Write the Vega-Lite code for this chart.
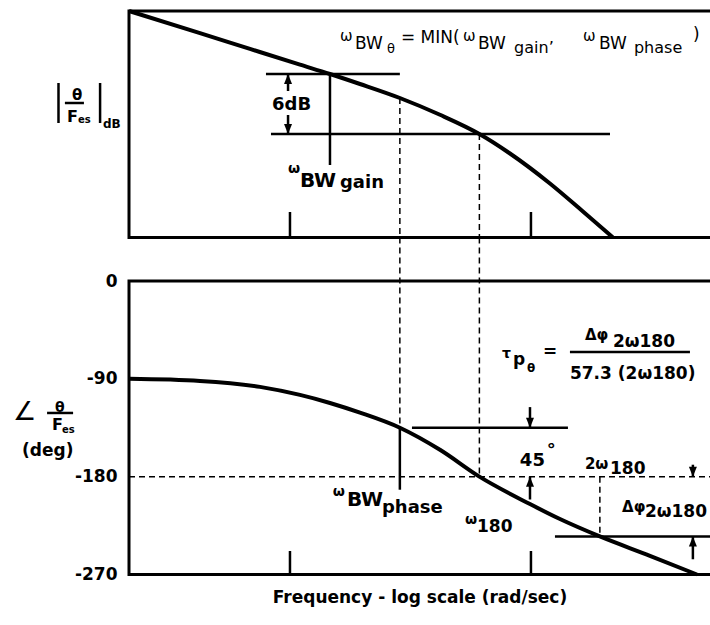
{
  "$schema": "https://vega.github.io/schema/vega-lite/v6.json",
  "width": 581,
  "height": 563.5,
  "autosize": {"type": "none"},
  "padding": {"left": 129, "top": 11, "right": 0, "bottom": 50.5},
  "background": "white",
  "config": {
    "view": {"stroke": null},
    "axisX": {"labels": false, "ticks": false, "domain": false, "grid": false, "titleFont": "DejaVu Sans", "titleFontWeight": "bold", "titleFontSize": 17, "titlePadding": 15, "titleColor": "black"},
    "axisY": {"ticks": false, "domain": false, "grid": false, "labelFont": "DejaVu Sans", "labelFontWeight": "bold", "labelFontSize": 17, "labelPadding": 12, "labelColor": "black"}
  },
  "datasets": {
    "topFrame": [{"x": -0.668, "x2": 1.9, "y": 0, "y2": -22.65}],
    "topCurve": [
      {"x": -0.668, "y": 0}, {"x": -0.3734, "y": -2.22}, {"x": -0.166, "y": -3.79}, {"x": 0.0415, "y": -5.36},
      {"x": 0.166, "y": -6.3}, {"x": 0.2905, "y": -7.3}, {"x": 0.456, "y": -8.7}, {"x": 0.6224, "y": -10.38},
      {"x": 0.786, "y": -12.3}, {"x": 0.9129, "y": -14.25}, {"x": 1.0788, "y": -17.25}, {"x": 1.2158, "y": -20.05},
      {"x": 1.34, "y": -22.65}
    ],
    "topLines": [
      {"x": -0.0996, "x2": 0.456, "y": -6.3, "y2": -6.3},
      {"x": -0.0788, "x2": 1.328, "y": -12.3, "y2": -12.3},
      {"x": 0.166, "x2": 0.166, "y": -6.3, "y2": -15.4},
      {"x": 0, "x2": 0, "y": -20.1, "y2": -22.65},
      {"x": 1, "x2": 1, "y": -20.1, "y2": -22.65},
      {"x": -0.008, "x2": -0.008, "y": -6.3, "y2": -8.0},
      {"x": -0.008, "x2": -0.008, "y": -10.4, "y2": -12.3},
      {"x": -0.9606, "x2": -0.9606, "y": -7.2, "y2": -11.2},
      {"x": -0.788, "x2": -0.788, "y": -7.2, "y2": -11.2},
      {"x": -0.934, "x2": -0.855, "y": -9.2, "y2": -9.2}
    ],
    "topDashed": [
      {"x": 0.456, "x2": 0.456, "y": -8.7, "y2": -22.65},
      {"x": 0.786, "x2": 0.786, "y": -12.3, "y2": -22.65}
    ],
    "topHeads": [
      {"x": -0.008, "y": -6.3, "dir": "up"},
      {"x": -0.008, "y": -12.3, "dir": "down"}
    ],
    "topTextReg": [
      {"x": 0.2075, "y": -3.0, "t": "ω", "role": "omega"},
      {"x": 0.2697, "y": -3.8, "t": "BW", "role": "main"},
      {"x": 0.4025, "y": -4.2, "t": "θ", "role": "sub"},
      {"x": 0.4606, "y": -3.2, "t": "= MIN(", "role": "main"},
      {"x": 0.7178, "y": -3.0, "t": "ω", "role": "omega"},
      {"x": 0.7801, "y": -3.8, "t": "BW", "role": "main"},
      {"x": 0.93, "y": -4.2, "t": "gain’", "role": "mid"},
      {"x": 1.216, "y": -3.0, "t": "ω", "role": "omega"},
      {"x": 1.2825, "y": -3.8, "t": "BW", "role": "main"},
      {"x": 1.4274, "y": -4.2, "t": "phase", "role": "mid"},
      {"x": 1.672, "y": -2.9, "t": ")", "role": "main"}
    ],
    "topTextBold": [
      {"x": -0.0747, "y": -9.9, "t": "6dB", "role": "large"},
      {"x": -0.0083, "y": -16.2, "t": "ω", "role": "sup"},
      {"x": 0.0415, "y": -17.6, "t": "BW", "role": "big"},
      {"x": 0.2075, "y": -17.7, "t": "gain", "role": "large"},
      {"x": -0.9046, "y": -8.9, "t": "θ", "role": "omega"},
      {"x": -0.925, "y": -11.1, "t": "F", "role": "mid"},
      {"x": -0.88, "y": -11.2, "t": "es", "role": "tiny"},
      {"x": -0.776, "y": -11.7, "t": "dB", "role": "small"}
    ],
    "botFrame": [{"x": -0.668, "x2": 1.9, "y": 0, "y2": -270}],
    "botCurve": [
      {"x": -0.668, "y": -90}, {"x": -0.3734, "y": -91.9}, {"x": -0.1245, "y": -97.4}, {"x": 0.0415, "y": -104.8},
      {"x": 0.166, "y": -112.2}, {"x": 0.2905, "y": -121.1}, {"x": 0.456, "y": -135}, {"x": 0.6224, "y": -155.3},
      {"x": 0.786, "y": -180}, {"x": 0.9959, "y": -205.2}, {"x": 1.1203, "y": -219}, {"x": 1.286, "y": -235},
      {"x": 1.4938, "y": -252.8}, {"x": 1.6888, "y": -270}
    ],
    "botLines": [
      {"x": 0.5062, "x2": 1.1535, "y": -135, "y2": -135},
      {"x": 1.0996, "x2": 1.9, "y": -235, "y2": -235},
      {"x": 0.456, "x2": 0.456, "y": -135, "y2": -192},
      {"x": 0, "x2": 0, "y": -248.4, "y2": -270},
      {"x": 1, "x2": 1, "y": -248.4, "y2": -270},
      {"x": 0.996, "x2": 0.996, "y": -116, "y2": -135},
      {"x": 0.996, "x2": 0.996, "y": -180, "y2": -201},
      {"x": 1.672, "x2": 1.672, "y": -169, "y2": -180},
      {"x": 1.672, "x2": 1.672, "y": -235, "y2": -256},
      {"x": 1.1618, "x2": 1.6598, "y": -65.3, "y2": -65.3},
      {"x": -1.008, "x2": -0.9, "y": -121.4, "y2": -121.4}
    ],
    "botDashed": [
      {"x": -0.668, "x2": 1.9, "y": -180, "y2": -180},
      {"x": 0.456, "x2": 0.456, "y": 40, "y2": -135},
      {"x": 0.786, "x2": 0.786, "y": 40, "y2": -180},
      {"x": 1.286, "x2": 1.286, "y": -180, "y2": -235}
    ],
    "botHeads": [
      {"x": 0.996, "y": -135, "dir": "down"},
      {"x": 0.996, "y": -180, "dir": "up"},
      {"x": 1.672, "y": -180, "dir": "down"},
      {"x": 1.672, "y": -235, "dir": "up"}
    ],
    "botText": [
      {"x": 0.8797, "y": -70.8, "t": "τ", "role": "sup"},
      {"x": 0.9253, "y": -77.3, "t": "p", "role": "main"},
      {"x": 0.9834, "y": -83.7, "t": "θ", "role": "small"},
      {"x": 1.0498, "y": -69.9, "t": "=", "role": "main"},
      {"x": 1.224, "y": -54.3, "t": "Δφ", "role": "omega"},
      {"x": 1.3402, "y": -60.7, "t": "2ω180", "role": "main"},
      {"x": 1.1618, "y": -90.2, "t": "57.3 (2ω180)", "role": "main"},
      {"x": 0.954, "y": -170.2, "t": "45", "role": "large"},
      {"x": 1.066, "y": -161, "t": "°", "role": "large"},
      {"x": 1.224, "y": -173, "t": "2ω", "role": "omega"},
      {"x": 1.328, "y": -177.6, "t": "180", "role": "main"},
      {"x": 0.178, "y": -197.8, "t": "ω", "role": "sup"},
      {"x": 0.2365, "y": -207, "t": "BW", "role": "big"},
      {"x": 0.3817, "y": -213.4, "t": "phase", "role": "large"},
      {"x": 0.726, "y": -223.5, "t": "ω", "role": "sup"},
      {"x": 0.776, "y": -230.9, "t": "180", "role": "main"},
      {"x": 1.378, "y": -212.5, "t": "Δφ", "role": "omega"},
      {"x": 1.473, "y": -217.1, "t": "2ω180", "role": "main"},
      {"x": -1.149, "y": -127.9, "t": "∠", "role": "huge"},
      {"x": -0.975, "y": -120.5, "t": "θ", "role": "sup"},
      {"x": -0.9876, "y": -137.1, "t": "F", "role": "mid"},
      {"x": -0.946, "y": -139.8, "t": "es", "role": "tiny"},
      {"x": -1.112, "y": -161.0, "t": "(deg)", "role": "main"}
    ]
  },
  "resolve": {"scale": {"y": "independent"}},
  "layer": [
    {
      "layer": [
        {"data": {"name": "topFrame"}, "mark": {"type": "rect", "fillOpacity": 0, "stroke": "black", "strokeWidth": 3},
          "encoding": {"x": {"field": "x", "type": "quantitative", "scale": {"domain": [-0.668, 1.743], "nice": false, "zero": false}, "title": "Frequency - log scale (rad/sec)"}, "x2": {"field": "x2"},
            "y": {"field": "y", "type": "quantitative", "scale": {"domain": [-56.35, 0], "nice": false, "zero": false}, "axis": null}, "y2": {"field": "y2"}}},
        {"data": {"name": "topCurve"}, "mark": {"type": "line", "color": "black", "strokeWidth": 4, "interpolate": "monotone"},
          "encoding": {"x": {"field": "x", "type": "quantitative", "scale": {"domain": [-0.668, 1.743], "nice": false, "zero": false}, "title": "Frequency - log scale (rad/sec)"},
            "y": {"field": "y", "type": "quantitative", "scale": {"domain": [-56.35, 0], "nice": false, "zero": false}, "axis": null}}},
        {"data": {"name": "topLines"}, "mark": {"type": "rule", "color": "black", "strokeWidth": 2.5},
          "encoding": {"x": {"field": "x", "type": "quantitative", "scale": {"domain": [-0.668, 1.743], "nice": false, "zero": false}, "title": "Frequency - log scale (rad/sec)"}, "x2": {"field": "x2"},
            "y": {"field": "y", "type": "quantitative", "scale": {"domain": [-56.35, 0], "nice": false, "zero": false}, "axis": null}, "y2": {"field": "y2"}}},
        {"data": {"name": "topDashed"}, "mark": {"type": "rule", "color": "black", "strokeWidth": 1.5, "strokeDash": [6, 4]},
          "encoding": {"x": {"field": "x", "type": "quantitative", "scale": {"domain": [-0.668, 1.743], "nice": false, "zero": false}, "title": "Frequency - log scale (rad/sec)"}, "x2": {"field": "x2"},
            "y": {"field": "y", "type": "quantitative", "scale": {"domain": [-56.35, 0], "nice": false, "zero": false}, "axis": null}, "y2": {"field": "y2"}}},
        {"data": {"name": "topHeads"}, "mark": {"type": "point", "filled": true, "color": "black", "size": 400, "opacity": 1},
          "encoding": {"x": {"field": "x", "type": "quantitative", "scale": {"domain": [-0.668, 1.743], "nice": false, "zero": false}, "title": "Frequency - log scale (rad/sec)"},
            "y": {"field": "y", "type": "quantitative", "scale": {"domain": [-56.35, 0], "nice": false, "zero": false}, "axis": null},
            "shape": {"field": "dir", "type": "nominal", "scale": {"domain": ["up", "down"], "range": ["M0,0L-0.4,1L0.4,1Z", "M0,0L-0.4,-1L0.4,-1Z"]}, "legend": null}}},
        {"data": {"name": "topTextReg"}, "transform": [{"filter": {"field": "role", "equal": "omega"}}],
          "mark": {"type": "text", "align": "left", "baseline": "alphabetic", "font": "DejaVu Sans", "fontWeight": "normal", "fontSize": 15, "color": "black"},
          "encoding": {"x": {"field": "x", "type": "quantitative", "scale": {"domain": [-0.668, 1.743], "nice": false, "zero": false}, "title": "Frequency - log scale (rad/sec)"},
            "y": {"field": "y", "type": "quantitative", "scale": {"domain": [-56.35, 0], "nice": false, "zero": false}, "axis": null}, "text": {"field": "t"}}},
        {"data": {"name": "topTextReg"}, "transform": [{"filter": {"field": "role", "equal": "main"}}],
          "mark": {"type": "text", "align": "left", "baseline": "alphabetic", "font": "DejaVu Sans", "fontWeight": "normal", "fontSize": 17, "color": "black"},
          "encoding": {"x": {"field": "x", "type": "quantitative", "scale": {"domain": [-0.668, 1.743], "nice": false, "zero": false}, "title": "Frequency - log scale (rad/sec)"},
            "y": {"field": "y", "type": "quantitative", "scale": {"domain": [-56.35, 0], "nice": false, "zero": false}, "axis": null}, "text": {"field": "t"}}},
        {"data": {"name": "topTextReg"}, "transform": [{"filter": {"field": "role", "equal": "sub"}}],
          "mark": {"type": "text", "align": "left", "baseline": "alphabetic", "font": "DejaVu Sans", "fontWeight": "normal", "fontSize": 13, "color": "black"},
          "encoding": {"x": {"field": "x", "type": "quantitative", "scale": {"domain": [-0.668, 1.743], "nice": false, "zero": false}, "title": "Frequency - log scale (rad/sec)"},
            "y": {"field": "y", "type": "quantitative", "scale": {"domain": [-56.35, 0], "nice": false, "zero": false}, "axis": null}, "text": {"field": "t"}}},
        {"data": {"name": "topTextReg"}, "transform": [{"filter": {"field": "role", "equal": "mid"}}],
          "mark": {"type": "text", "align": "left", "baseline": "alphabetic", "font": "DejaVu Sans", "fontWeight": "normal", "fontSize": 16, "color": "black"},
          "encoding": {"x": {"field": "x", "type": "quantitative", "scale": {"domain": [-0.668, 1.743], "nice": false, "zero": false}, "title": "Frequency - log scale (rad/sec)"},
            "y": {"field": "y", "type": "quantitative", "scale": {"domain": [-56.35, 0], "nice": false, "zero": false}, "axis": null}, "text": {"field": "t"}}},
        {"data": {"name": "topTextBold"}, "transform": [{"filter": {"field": "role", "equal": "large"}}],
          "mark": {"type": "text", "align": "left", "baseline": "alphabetic", "font": "DejaVu Sans", "fontWeight": "bold", "fontSize": 18, "color": "black"},
          "encoding": {"x": {"field": "x", "type": "quantitative", "scale": {"domain": [-0.668, 1.743], "nice": false, "zero": false}, "title": "Frequency - log scale (rad/sec)"},
            "y": {"field": "y", "type": "quantitative", "scale": {"domain": [-56.35, 0], "nice": false, "zero": false}, "axis": null}, "text": {"field": "t"}}},
        {"data": {"name": "topTextBold"}, "transform": [{"filter": {"field": "role", "equal": "sup"}}],
          "mark": {"type": "text", "align": "left", "baseline": "alphabetic", "font": "DejaVu Sans", "fontWeight": "bold", "fontSize": 14, "color": "black"},
          "encoding": {"x": {"field": "x", "type": "quantitative", "scale": {"domain": [-0.668, 1.743], "nice": false, "zero": false}, "title": "Frequency - log scale (rad/sec)"},
            "y": {"field": "y", "type": "quantitative", "scale": {"domain": [-56.35, 0], "nice": false, "zero": false}, "axis": null}, "text": {"field": "t"}}},
        {"data": {"name": "topTextBold"}, "transform": [{"filter": {"field": "role", "equal": "big"}}],
          "mark": {"type": "text", "align": "left", "baseline": "alphabetic", "font": "DejaVu Sans", "fontWeight": "bold", "fontSize": 20, "color": "black"},
          "encoding": {"x": {"field": "x", "type": "quantitative", "scale": {"domain": [-0.668, 1.743], "nice": false, "zero": false}, "title": "Frequency - log scale (rad/sec)"},
            "y": {"field": "y", "type": "quantitative", "scale": {"domain": [-56.35, 0], "nice": false, "zero": false}, "axis": null}, "text": {"field": "t"}}},
        {"data": {"name": "topTextBold"}, "transform": [{"filter": {"field": "role", "equal": "omega"}}],
          "mark": {"type": "text", "align": "left", "baseline": "alphabetic", "font": "DejaVu Sans", "fontWeight": "bold", "fontSize": 15, "color": "black"},
          "encoding": {"x": {"field": "x", "type": "quantitative", "scale": {"domain": [-0.668, 1.743], "nice": false, "zero": false}, "title": "Frequency - log scale (rad/sec)"},
            "y": {"field": "y", "type": "quantitative", "scale": {"domain": [-56.35, 0], "nice": false, "zero": false}, "axis": null}, "text": {"field": "t"}}},
        {"data": {"name": "topTextBold"}, "transform": [{"filter": {"field": "role", "equal": "mid"}}],
          "mark": {"type": "text", "align": "left", "baseline": "alphabetic", "font": "DejaVu Sans", "fontWeight": "bold", "fontSize": 16, "color": "black"},
          "encoding": {"x": {"field": "x", "type": "quantitative", "scale": {"domain": [-0.668, 1.743], "nice": false, "zero": false}, "title": "Frequency - log scale (rad/sec)"},
            "y": {"field": "y", "type": "quantitative", "scale": {"domain": [-56.35, 0], "nice": false, "zero": false}, "axis": null}, "text": {"field": "t"}}},
        {"data": {"name": "topTextBold"}, "transform": [{"filter": {"field": "role", "equal": "tiny"}}],
          "mark": {"type": "text", "align": "left", "baseline": "alphabetic", "font": "DejaVu Sans", "fontWeight": "bold", "fontSize": 10, "color": "black"},
          "encoding": {"x": {"field": "x", "type": "quantitative", "scale": {"domain": [-0.668, 1.743], "nice": false, "zero": false}, "title": "Frequency - log scale (rad/sec)"},
            "y": {"field": "y", "type": "quantitative", "scale": {"domain": [-56.35, 0], "nice": false, "zero": false}, "axis": null}, "text": {"field": "t"}}},
        {"data": {"name": "topTextBold"}, "transform": [{"filter": {"field": "role", "equal": "small"}}],
          "mark": {"type": "text", "align": "left", "baseline": "alphabetic", "font": "DejaVu Sans", "fontWeight": "bold", "fontSize": 12, "color": "black"},
          "encoding": {"x": {"field": "x", "type": "quantitative", "scale": {"domain": [-0.668, 1.743], "nice": false, "zero": false}, "title": "Frequency - log scale (rad/sec)"},
            "y": {"field": "y", "type": "quantitative", "scale": {"domain": [-56.35, 0], "nice": false, "zero": false}, "axis": null}, "text": {"field": "t"}}}
      ]
    },
    {
      "layer": [
        {"data": {"name": "botFrame"}, "mark": {"type": "rect", "fillOpacity": 0, "stroke": "black", "strokeWidth": 3},
          "encoding": {"x": {"field": "x", "type": "quantitative", "scale": {"domain": [-0.668, 1.743], "nice": false, "zero": false}, "title": "Frequency - log scale (rad/sec)"}, "x2": {"field": "x2"},
            "y": {"field": "y", "type": "quantitative", "scale": {"domain": [-270, 248.4], "nice": false, "zero": false}, "axis": {"values": [0, -90, -180, -270], "labelExpr": "datum.value == 0 ? '0' : '-' + abs(datum.value)"}, "title": null}, "y2": {"field": "y2"}}},
        {"data": {"name": "botDashed"}, "mark": {"type": "rule", "color": "black", "strokeWidth": 1.5, "strokeDash": [6, 4]},
          "encoding": {"x": {"field": "x", "type": "quantitative", "scale": {"domain": [-0.668, 1.743], "nice": false, "zero": false}, "title": "Frequency - log scale (rad/sec)"}, "x2": {"field": "x2"},
            "y": {"field": "y", "type": "quantitative", "scale": {"domain": [-270, 248.4], "nice": false, "zero": false}, "axis": {"values": [0, -90, -180, -270], "labelExpr": "datum.value == 0 ? '0' : '-' + abs(datum.value)"}, "title": null}, "y2": {"field": "y2"}}},
        {"data": {"name": "botCurve"}, "mark": {"type": "line", "color": "black", "strokeWidth": 4, "interpolate": "monotone"},
          "encoding": {"x": {"field": "x", "type": "quantitative", "scale": {"domain": [-0.668, 1.743], "nice": false, "zero": false}, "title": "Frequency - log scale (rad/sec)"},
            "y": {"field": "y", "type": "quantitative", "scale": {"domain": [-270, 248.4], "nice": false, "zero": false}, "axis": {"values": [0, -90, -180, -270], "labelExpr": "datum.value == 0 ? '0' : '-' + abs(datum.value)"}, "title": null}}},
        {"data": {"name": "botLines"}, "mark": {"type": "rule", "color": "black", "strokeWidth": 2.5},
          "encoding": {"x": {"field": "x", "type": "quantitative", "scale": {"domain": [-0.668, 1.743], "nice": false, "zero": false}, "title": "Frequency - log scale (rad/sec)"}, "x2": {"field": "x2"},
            "y": {"field": "y", "type": "quantitative", "scale": {"domain": [-270, 248.4], "nice": false, "zero": false}, "axis": {"values": [0, -90, -180, -270], "labelExpr": "datum.value == 0 ? '0' : '-' + abs(datum.value)"}, "title": null}, "y2": {"field": "y2"}}},
        {"data": {"name": "botHeads"}, "mark": {"type": "point", "filled": true, "color": "black", "size": 400, "opacity": 1},
          "encoding": {"x": {"field": "x", "type": "quantitative", "scale": {"domain": [-0.668, 1.743], "nice": false, "zero": false}, "title": "Frequency - log scale (rad/sec)"},
            "y": {"field": "y", "type": "quantitative", "scale": {"domain": [-270, 248.4], "nice": false, "zero": false}, "axis": {"values": [0, -90, -180, -270], "labelExpr": "datum.value == 0 ? '0' : '-' + abs(datum.value)"}, "title": null},
            "shape": {"field": "dir", "type": "nominal", "scale": {"domain": ["up", "down"], "range": ["M0,0L-0.4,1L0.4,1Z", "M0,0L-0.4,-1L0.4,-1Z"]}, "legend": null}}},
        {"data": {"name": "botText"}, "transform": [{"filter": {"field": "role", "equal": "tiny"}}],
          "mark": {"type": "text", "align": "left", "baseline": "alphabetic", "font": "DejaVu Sans", "fontWeight": "bold", "fontSize": 10, "color": "black"},
          "encoding": {"x": {"field": "x", "type": "quantitative", "scale": {"domain": [-0.668, 1.743], "nice": false, "zero": false}, "title": "Frequency - log scale (rad/sec)"},
            "y": {"field": "y", "type": "quantitative", "scale": {"domain": [-270, 248.4], "nice": false, "zero": false}, "axis": {"values": [0, -90, -180, -270], "labelExpr": "datum.value == 0 ? '0' : '-' + abs(datum.value)"}, "title": null}, "text": {"field": "t"}}},
        {"data": {"name": "botText"}, "transform": [{"filter": {"field": "role", "equal": "small"}}],
          "mark": {"type": "text", "align": "left", "baseline": "alphabetic", "font": "DejaVu Sans", "fontWeight": "bold", "fontSize": 12, "color": "black"},
          "encoding": {"x": {"field": "x", "type": "quantitative", "scale": {"domain": [-0.668, 1.743], "nice": false, "zero": false}, "title": "Frequency - log scale (rad/sec)"},
            "y": {"field": "y", "type": "quantitative", "scale": {"domain": [-270, 248.4], "nice": false, "zero": false}, "axis": {"values": [0, -90, -180, -270], "labelExpr": "datum.value == 0 ? '0' : '-' + abs(datum.value)"}, "title": null}, "text": {"field": "t"}}},
        {"data": {"name": "botText"}, "transform": [{"filter": {"field": "role", "equal": "sup"}}],
          "mark": {"type": "text", "align": "left", "baseline": "alphabetic", "font": "DejaVu Sans", "fontWeight": "bold", "fontSize": 14, "color": "black"},
          "encoding": {"x": {"field": "x", "type": "quantitative", "scale": {"domain": [-0.668, 1.743], "nice": false, "zero": false}, "title": "Frequency - log scale (rad/sec)"},
            "y": {"field": "y", "type": "quantitative", "scale": {"domain": [-270, 248.4], "nice": false, "zero": false}, "axis": {"values": [0, -90, -180, -270], "labelExpr": "datum.value == 0 ? '0' : '-' + abs(datum.value)"}, "title": null}, "text": {"field": "t"}}},
        {"data": {"name": "botText"}, "transform": [{"filter": {"field": "role", "equal": "omega"}}],
          "mark": {"type": "text", "align": "left", "baseline": "alphabetic", "font": "DejaVu Sans", "fontWeight": "bold", "fontSize": 15, "color": "black"},
          "encoding": {"x": {"field": "x", "type": "quantitative", "scale": {"domain": [-0.668, 1.743], "nice": false, "zero": false}, "title": "Frequency - log scale (rad/sec)"},
            "y": {"field": "y", "type": "quantitative", "scale": {"domain": [-270, 248.4], "nice": false, "zero": false}, "axis": {"values": [0, -90, -180, -270], "labelExpr": "datum.value == 0 ? '0' : '-' + abs(datum.value)"}, "title": null}, "text": {"field": "t"}}},
        {"data": {"name": "botText"}, "transform": [{"filter": {"field": "role", "equal": "mid"}}],
          "mark": {"type": "text", "align": "left", "baseline": "alphabetic", "font": "DejaVu Sans", "fontWeight": "bold", "fontSize": 16, "color": "black"},
          "encoding": {"x": {"field": "x", "type": "quantitative", "scale": {"domain": [-0.668, 1.743], "nice": false, "zero": false}, "title": "Frequency - log scale (rad/sec)"},
            "y": {"field": "y", "type": "quantitative", "scale": {"domain": [-270, 248.4], "nice": false, "zero": false}, "axis": {"values": [0, -90, -180, -270], "labelExpr": "datum.value == 0 ? '0' : '-' + abs(datum.value)"}, "title": null}, "text": {"field": "t"}}},
        {"data": {"name": "botText"}, "transform": [{"filter": {"field": "role", "equal": "main"}}],
          "mark": {"type": "text", "align": "left", "baseline": "alphabetic", "font": "DejaVu Sans", "fontWeight": "bold", "fontSize": 17, "color": "black"},
          "encoding": {"x": {"field": "x", "type": "quantitative", "scale": {"domain": [-0.668, 1.743], "nice": false, "zero": false}, "title": "Frequency - log scale (rad/sec)"},
            "y": {"field": "y", "type": "quantitative", "scale": {"domain": [-270, 248.4], "nice": false, "zero": false}, "axis": {"values": [0, -90, -180, -270], "labelExpr": "datum.value == 0 ? '0' : '-' + abs(datum.value)"}, "title": null}, "text": {"field": "t"}}},
        {"data": {"name": "botText"}, "transform": [{"filter": {"field": "role", "equal": "large"}}],
          "mark": {"type": "text", "align": "left", "baseline": "alphabetic", "font": "DejaVu Sans", "fontWeight": "bold", "fontSize": 18, "color": "black"},
          "encoding": {"x": {"field": "x", "type": "quantitative", "scale": {"domain": [-0.668, 1.743], "nice": false, "zero": false}, "title": "Frequency - log scale (rad/sec)"},
            "y": {"field": "y", "type": "quantitative", "scale": {"domain": [-270, 248.4], "nice": false, "zero": false}, "axis": {"values": [0, -90, -180, -270], "labelExpr": "datum.value == 0 ? '0' : '-' + abs(datum.value)"}, "title": null}, "text": {"field": "t"}}},
        {"data": {"name": "botText"}, "transform": [{"filter": {"field": "role", "equal": "big"}}],
          "mark": {"type": "text", "align": "left", "baseline": "alphabetic", "font": "DejaVu Sans", "fontWeight": "bold", "fontSize": 20, "color": "black"},
          "encoding": {"x": {"field": "x", "type": "quantitative", "scale": {"domain": [-0.668, 1.743], "nice": false, "zero": false}, "title": "Frequency - log scale (rad/sec)"},
            "y": {"field": "y", "type": "quantitative", "scale": {"domain": [-270, 248.4], "nice": false, "zero": false}, "axis": {"values": [0, -90, -180, -270], "labelExpr": "datum.value == 0 ? '0' : '-' + abs(datum.value)"}, "title": null}, "text": {"field": "t"}}},
        {"data": {"name": "botText"}, "transform": [{"filter": {"field": "role", "equal": "huge"}}],
          "mark": {"type": "text", "align": "left", "baseline": "alphabetic", "font": "DejaVu Sans", "fontWeight": "normal", "fontSize": 26, "color": "black"},
          "encoding": {"x": {"field": "x", "type": "quantitative", "scale": {"domain": [-0.668, 1.743], "nice": false, "zero": false}, "title": "Frequency - log scale (rad/sec)"},
            "y": {"field": "y", "type": "quantitative", "scale": {"domain": [-270, 248.4], "nice": false, "zero": false}, "axis": {"values": [0, -90, -180, -270], "labelExpr": "datum.value == 0 ? '0' : '-' + abs(datum.value)"}, "title": null}, "text": {"field": "t"}}}
      ]
    }
  ]
}
